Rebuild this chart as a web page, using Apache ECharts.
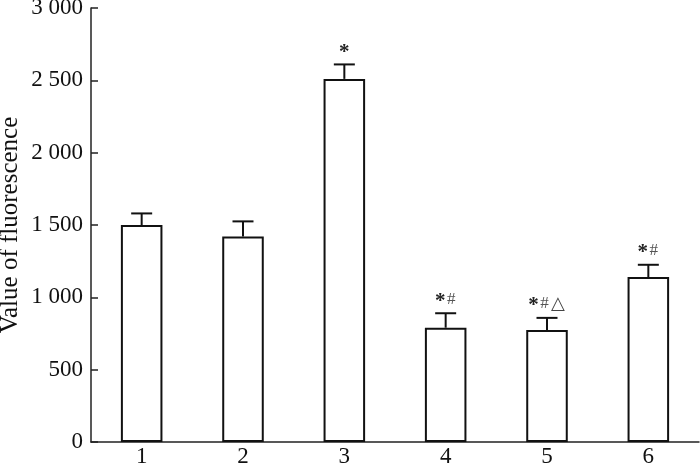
<!DOCTYPE html>
<html>
<head>
<meta charset="utf-8">
<script src="https://cdn.jsdelivr.net/npm/echarts@6/dist/echarts.min.js"></script>
<style>
  html, body { margin: 0; padding: 0; background: #fff; }
  #main { width: 700px; height: 470px; }
</style>
</head>
<body>
<div id="main"></div>
<script>
var chart = echarts.init(document.getElementById('main'));

// 组别
var groups = ['1', '2', '3', '4', '5', '6'];
// 荧光值均值
var means = [1500, 1420, 2510, 790, 775, 1140];
// 误差棒上端
var upper = [1580, 1525, 2610, 890, 858, 1225];
// 显著性标记
var marks = ['', '', '*', '*#', '*#△', '*#'];
var yTicks = [0, 500, 1000, 1500, 2000, 2500, 3000];

var errData = [];
for (var i = 0; i < groups.length; i++) {
    errData.push([i, means[i], upper[i]]);
}

// 每个符号的字体样式和宽度
var glyph = {
    '*': { w: 10, dy: 2, style: { fontFamily: 'Liberation Serif', fontSize: 21, fontWeight: 'bold', fill: '#222' } },
    '#': { w: 10, dy: 0, style: { fontFamily: 'Liberation Serif', fontSize: 17, fill: '#555' } },
    '△': { w: 15, dy: 0, style: { fontFamily: 'DejaVu Sans', fontSize: 18, fill: '#444' } }
};

var option = {
    animation: false,
    grid: { left: 91, right: 1, top: 8, bottom: 28, outerBoundsMode: 'none' },
    xAxis: {
        type: 'category',
        data: groups,
        boundaryGap: true,
        axisLine: { lineStyle: { color: '#222', width: 1.5 } },
        axisTick: { inside: true, length: 7, lineStyle: { color: '#222', width: 1.5 } },
        axisLabel: { color: '#111', fontFamily: 'Liberation Serif', fontSize: 23, margin: 3 }
    },
    yAxis: {
        type: 'value',
        min: 0,
        max: 3000,
        interval: 500,
        name: 'Value of fluorescence',
        nameLocation: 'middle',
        nameGap: 68,
        nameMoveOverlap: false,
        nameTextStyle: { color: '#111', fontFamily: 'Liberation Serif', fontSize: 25 },
        axisLine: { show: true, lineStyle: { color: '#222', width: 1.5 } },
        axisTick: { show: true, inside: true, length: 7, lineStyle: { color: '#222', width: 1.5 } },
        splitLine: { show: false },
        axisLabel: {
            color: '#111', fontFamily: 'Liberation Serif', fontSize: 23, margin: 8,
            formatter: function (v) {
                if (yTicks.indexOf(v) < 0) return '';
                return String(v).replace(/\B(?=(\d{3})+(?!\d))/g, ' ');
            }
        }
    },
    series: [
        {
            type: 'bar',
            data: means,
            barWidth: '41%',
            itemStyle: { color: '#fff', borderColor: '#111', borderWidth: 2 }
        },
        {
            type: 'custom',
            data: errData,
            z: 5,
            renderItem: function (params, api) {
                var x = api.value(0);
                var base = api.coord([x, api.value(1)]);
                var top = api.coord([x, api.value(2)]);
                var half = 10.5;
                var children = [
                    { type: 'line', shape: { x1: base[0], y1: base[1], x2: top[0], y2: top[1] },
                      style: { stroke: '#111', lineWidth: 2 } },
                    { type: 'line', shape: { x1: top[0] - half, y1: top[1], x2: top[0] + half, y2: top[1] },
                      style: { stroke: '#111', lineWidth: 2 } }
                ];
                var m = marks[params.dataIndex];
                var total = 0, k;
                for (k = 0; k < m.length; k++) total += glyph[m.charAt(k)].w + (k ? 1 : 0);
                var cx = top[0] - total / 2;
                var cy = top[1] - 14;
                for (k = 0; k < m.length; k++) {
                    var g = glyph[m.charAt(k)];
                    children.push({
                        type: 'text',
                        x: cx + g.w / 2,
                        y: cy + g.dy,
                        style: echarts.util.extend({
                            text: m.charAt(k), align: 'center', verticalAlign: 'middle'
                        }, g.style)
                    });
                    cx += g.w + 1;
                }
                return { type: 'group', children: children };
            }
        }
    ]
};
chart.setOption(option);
</script>
</body>
</html>
